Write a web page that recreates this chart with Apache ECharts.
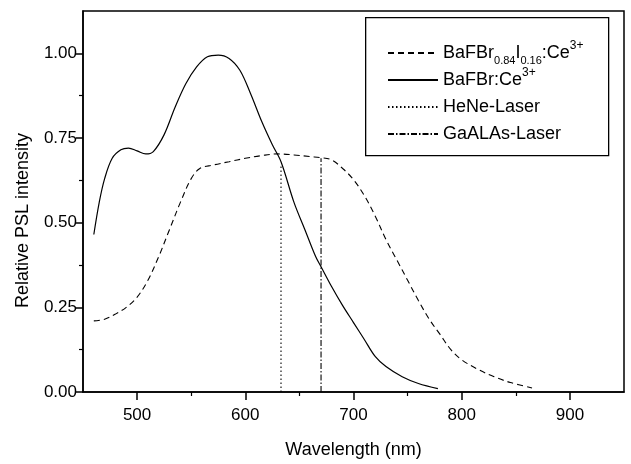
<!DOCTYPE html>
<html>
<head>
<meta charset="utf-8">
<script src="https://cdn.jsdelivr.net/npm/echarts@6/dist/echarts.min.js"></script>
<style>
  html, body { margin: 0; padding: 0; background: #fff; }
  #chart { width: 631px; height: 464px; }
</style>
</head>
<body>
<div id="chart"></div>
<script>
// PSL stimulation spectra of two storage phosphors, with the two read-out laser lines.
const FONT = '"Liberation Sans", Arial, Helvetica, sans-serif';

const xTickValues = [500, 600, 700, 800, 900];
const xMinorTickValues = [550, 650, 750, 850];
const yTickValues = [0, 0.25, 0.5, 0.75, 1.0];
const yMinorTickValues = [0.125, 0.375, 0.625, 0.875];

const seriesNames = ['BaFBr0.84I0.16:Ce3+', 'BaFBr:Ce3+', 'HeNe-Laser', 'GaALAs-Laser'];

// BaFBr(0.84)I(0.16):Ce3+  [wavelength nm, relative intensity]
const iodideWavelength = [460, 470, 480, 490, 500, 510, 520, 530, 540, 550, 558, 570, 585, 600, 615, 630, 645, 660, 670, 680, 690, 700, 710, 720, 730, 740, 750, 760, 770, 780, 790, 800, 815, 830, 845, 865];
const iodideIntensity  = [0.21, 0.215, 0.23, 0.25, 0.28, 0.33, 0.40, 0.48, 0.56, 0.63, 0.66, 0.67, 0.68, 0.69, 0.698, 0.703, 0.70, 0.695, 0.692, 0.685, 0.66, 0.627, 0.58, 0.52, 0.45, 0.39, 0.33, 0.27, 0.215, 0.17, 0.125, 0.095, 0.067, 0.045, 0.028, 0.012];

// BaFBr:Ce3+
const bromideWavelength = [460, 465, 470, 477, 485, 492, 500, 508, 515, 525, 535, 545, 555, 565, 575, 585, 595, 605, 615, 625, 633, 645, 655, 665, 670, 680, 690, 700, 710, 720, 730, 745, 760, 778];
const bromideIntensity  = [0.465, 0.56, 0.63, 0.69, 0.715, 0.72, 0.712, 0.703, 0.71, 0.76, 0.84, 0.91, 0.96, 0.99, 0.995, 0.985, 0.95, 0.88, 0.80, 0.73, 0.68, 0.56, 0.48, 0.40, 0.37, 0.31, 0.255, 0.205, 0.155, 0.105, 0.075, 0.045, 0.025, 0.01];

// Laser lines: wavelength and the height the marker line reaches
const heNeWavelength = 633;
const heNeTop = 0.67;
const gaAlAsWavelength = 670;
const gaAlAsTop = 0.69;

const zip = (xs, ys) => xs.map((x, i) => [x, ys[i]]);

const chart = echarts.init(document.getElementById('chart'), null, { renderer: 'canvas' });

const lineBase = { type: 'line', symbol: 'none', showSymbol: false, silent: true, z: 3 };

const option = {
  animation: false,
  backgroundColor: '#ffffff',
  textStyle: { fontFamily: FONT, color: '#000' },
  grid: {
    left: 83, top: 11, right: 7, bottom: 68,
    show: true, borderColor: '#000', borderWidth: 1.5, backgroundColor: 'transparent'
  },
  xAxis: [
    {
      type: 'value', min: 450, max: 950, interval: 50,
      name: 'Wavelength (nm)', nameLocation: 'middle', nameGap: 49,
      nameTextStyle: { fontFamily: FONT, fontSize: 18, color: '#000' },
      axisLine: { show: true, onZero: false, lineStyle: { color: '#000', width: 1.5 } },
      axisTick: { show: true, customValues: xTickValues, length: 8, lineStyle: { color: '#000', width: 1.5 } },
      axisLabel: { customValues: xTickValues, margin: 15, fontFamily: FONT, fontSize: 17, color: '#000' },
      splitLine: { show: false }
    },
    {
      type: 'value', min: 450, max: 950, interval: 50, position: 'bottom',
      axisLine: { show: false },
      axisTick: { show: true, customValues: xMinorTickValues, length: 4, lineStyle: { color: '#000', width: 1.2 } },
      axisLabel: { show: false },
      splitLine: { show: false }
    }
  ],
  yAxis: [
    {
      type: 'value', min: 0, max: 1.125, interval: 0.125,
      name: 'Relative PSL intensity', nameLocation: 'middle', nameGap: 51,
      nameTextStyle: { fontFamily: FONT, fontSize: 18, color: '#000', padding: [0, 38, 0, 0] },
      axisLine: { show: true, onZero: false, lineStyle: { color: '#000', width: 1.5 } },
      axisTick: { show: true, customValues: yTickValues, length: 7, lineStyle: { color: '#000', width: 1.5 } },
      axisLabel: {
        customValues: yTickValues, margin: 6, fontFamily: FONT, fontSize: 17, color: '#000',
        formatter: v => v.toFixed(2)
      },
      splitLine: { show: false }
    },
    {
      type: 'value', min: 0, max: 1.125, interval: 0.125, position: 'left',
      axisLine: { show: false },
      axisTick: { show: true, customValues: yMinorTickValues, length: 4, lineStyle: { color: '#000', width: 1.2 } },
      axisLabel: { show: false },
      splitLine: { show: false }
    }
  ],
  legend: {
    orient: 'vertical',
    left: 387, top: 40,
    padding: 0,
    itemWidth: 50, itemHeight: 14, itemGap: 1,
    selectedMode: false,
    data: seriesNames,
    itemStyle: { opacity: 0, borderWidth: 0 },
    textStyle: {
      fontFamily: FONT, fontSize: 18, color: '#000', lineHeight: 26,
      rich: {
        n:   { fontFamily: FONT, fontSize: 18, color: '#000', lineHeight: 26 },
        sub: { fontFamily: FONT, fontSize: 11, color: '#000', lineHeight: 5.4, verticalAlign: 'bottom' },
        sup: { fontFamily: FONT, fontSize: 12, color: '#000', lineHeight: 4.6, verticalAlign: 'top' }
      }
    },
    formatter: function (name) {
      if (name === seriesNames[0]) return '{n|BaFBr}{sub|0.84}{n|I}{sub|0.16}{n|:Ce}{sup|3+}';
      if (name === seriesNames[1]) return '{n|BaFBr:Ce}{sup|3+}';
      return '{n|' + name + '}';
    }
  },
  graphic: [
    {
      type: 'rect', left: 365, top: 17, z: 1,
      shape: { width: 243, height: 138 },
      style: { fill: '#fff', stroke: '#000', lineWidth: 1.3 }
    }
  ],
  series: [
    Object.assign({}, lineBase, {
      name: seriesNames[0], smooth: 0.35,
      data: zip(iodideWavelength, iodideIntensity),
      lineStyle: { color: '#000', width: 1.1, type: [6, 4] },
      itemStyle: { color: '#000' }
    }),
    Object.assign({}, lineBase, {
      name: seriesNames[1], smooth: 0.35,
      data: zip(bromideWavelength, bromideIntensity),
      lineStyle: { color: '#000', width: 1.2, type: 'solid' },
      itemStyle: { color: '#000' }
    }),
    Object.assign({}, lineBase, {
      name: seriesNames[2],
      data: [[heNeWavelength, 0], [heNeWavelength, heNeTop]],
      lineStyle: { color: '#000', width: 1.1, type: [1.5, 2.5] },
      itemStyle: { color: '#000' }
    }),
    Object.assign({}, lineBase, {
      name: seriesNames[3],
      data: [[gaAlAsWavelength, 0], [gaAlAsWavelength, gaAlAsTop]],
      lineStyle: { color: '#000', width: 1.1, type: [6, 2, 1.5, 2] },
      itemStyle: { color: '#000' }
    })
  ]
};

chart.setOption(option);
</script>
</body>
</html>
